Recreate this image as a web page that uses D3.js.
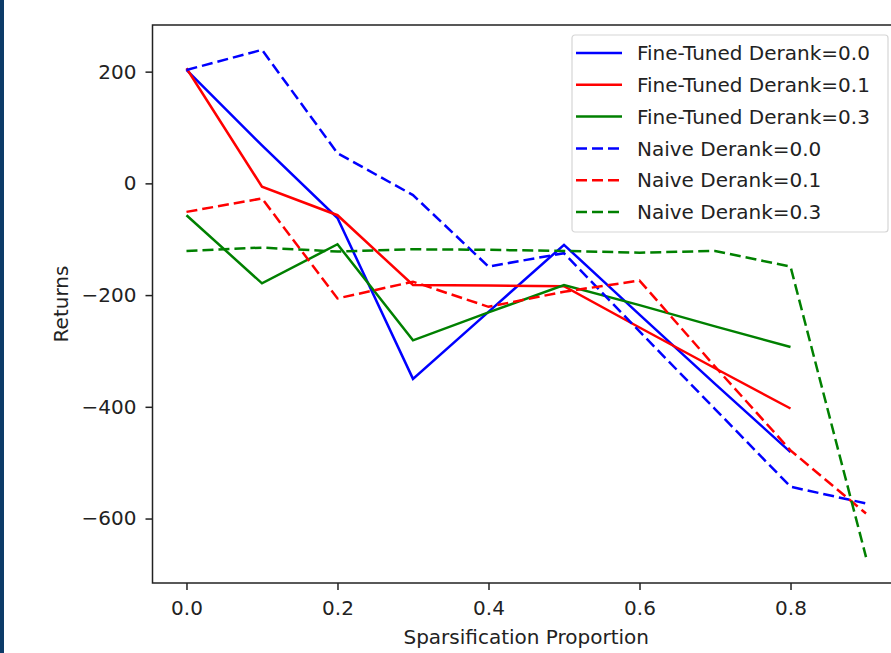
<!DOCTYPE html>
<html>
<head>
<meta charset="utf-8">
<script src="https://cdn.jsdelivr.net/npm/d3@7"></script>
<style>
  body { margin: 0; background: #fff; }
  text { font-family: "DejaVu Sans", sans-serif; fill: #222; }
</style>
</head>
<body>
<div id="chart"></div>
<script>
// Data
const sparsity = [0.0, 0.1, 0.2, 0.3, 0.4, 0.5, 0.6, 0.7, 0.8, 0.9];
const fineTuned00 = [203, 68, -62, -350, -230, -110, -235, -359, -481];
const fineTuned01 = [206, -6, -57, -182, -183, -184, -258, -331, -403];
const fineTuned03 = [-57, -179, -109, -281, -231, -182, -218, -256, -293];
const naive00 = [203, 239, 54, -21, -149, -125, -265, -404, -543, -573];
const naive01 = [-51, -27, -206, -176, -221, -194, -174, -328, -478, -591];
const naive03 = [-121, -115, -122, -118, -119, -121, -124, -121, -149, -669];
const xTicks = [0.0, 0.2, 0.4, 0.6, 0.8];
const yTicks = [-600, -400, -200, 0, 200];

const seriesNames = ["Fine-Tuned Derank=0.0", "Fine-Tuned Derank=0.1", "Fine-Tuned Derank=0.3",
                     "Naive Derank=0.0", "Naive Derank=0.1", "Naive Derank=0.3"];
const seriesValues = [fineTuned00, fineTuned01, fineTuned03, naive00, naive01, naive03];
const seriesColors = ["#0000ff", "#ff0000", "#008000", "#0000ff", "#ff0000", "#008000"];
const seriesDashed = [false, false, false, true, true, true];

// Dimensions (plot area runs past the right edge, as in the reference)
const W = 891, H = 653;
const margin = { top: 25, left: 152.5 },
      plotRight = 900, plotBottom = 583;

const svg = d3.select("#chart")
              .append("svg")
              .attr("width", W)
              .attr("height", H);

// dark frame strip on the left edge
svg.append("rect")
   .attr("x", 0).attr("y", 0)
   .attr("width", 4).attr("height", H)
   .attr("fill", "#0d3b68");

const x = d3.scaleLinear()
            .domain([-0.045, 0.945])
            .range([margin.left, plotRight]);

const y = d3.scaleLinear()
            .domain([-715.4, 283.5])
            .range([plotBottom, margin.top]);

// Axes
const fmtY = d3.format("d");
const xAxis = svg.append("g")
   .attr("transform", `translate(0,${plotBottom})`)
   .call(d3.axisBottom(x).tickValues(xTicks).tickFormat(d3.format(".1f"))
           .tickSize(7).tickSizeOuter(0).tickPadding(11));

const yAxis = svg.append("g")
   .attr("transform", `translate(${margin.left},0)`)
   .call(d3.axisLeft(y).tickValues(yTicks).tickFormat(fmtY)
           .tickSize(7).tickSizeOuter(0).tickPadding(9));

[xAxis, yAxis].forEach(g => {
    g.select(".domain").remove();
    g.selectAll("line").attr("stroke", "#222").attr("stroke-width", 1.5);
    g.selectAll("text").style("font-size", "20px").attr("fill", "#222");
});

// Spines
svg.append("rect")
   .attr("x", margin.left)
   .attr("y", margin.top)
   .attr("width", plotRight - margin.left)
   .attr("height", plotBottom - margin.top)
   .attr("fill", "none")
   .attr("stroke", "#222")
   .attr("stroke-width", 1.5);

// Axis labels
svg.append("text")
   .attr("text-anchor", "middle")
   .attr("x", (margin.left + plotRight) / 2)
   .attr("y", 644)
   .style("font-size", "20px")
   .text("Sparsification Proportion");

svg.append("text")
   .attr("text-anchor", "middle")
   .attr("transform", `translate(68,${(margin.top + plotBottom) / 2}) rotate(-90)`)
   .style("font-size", "20px")
   .text("Returns");

// Lines
const line = d3.line()
               .x((d, i) => x(sparsity[i]))
               .y(d => y(d));

const plot = svg.append("g");
seriesValues.forEach((vals, i) => {
    plot.append("path")
        .datum(vals)
        .attr("d", line)
        .attr("fill", "none")
        .attr("stroke", seriesColors[i])
        .attr("stroke-width", 2.5)
        .attr("stroke-dasharray", seriesDashed[i] ? "11,5" : null);
});

// Legend
const legend = svg.append("g")
                  .attr("transform", "translate(572,35)");

legend.append("rect")
      .attr("width", 316)
      .attr("height", 197)
      .attr("rx", 3)
      .attr("fill", "#fff")
      .attr("fill-opacity", 0.8)
      .attr("stroke", "#d6d6d6")
      .attr("stroke-width", 1.2);

seriesNames.forEach((name, i) => {
    const yy = 18 + i * 31.8;
    legend.append("line")
          .attr("x1", 4).attr("x2", 50)
          .attr("y1", yy).attr("y2", yy)
          .attr("stroke", seriesColors[i])
          .attr("stroke-width", 2.5)
          .attr("stroke-dasharray", seriesDashed[i] ? "11,5" : null);
    legend.append("text")
          .attr("x", 65)
          .attr("y", yy)
          .attr("dy", "0.36em")
          .style("font-size", "20px")
          .text(name);
});
</script>
</body>
</html>
